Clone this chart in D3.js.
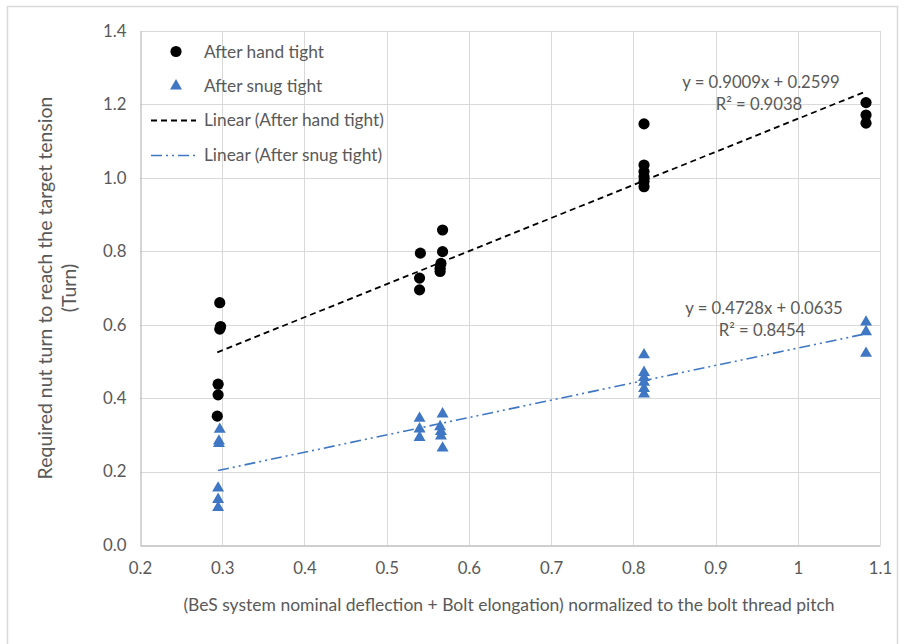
<!DOCTYPE html>
<html><head><meta charset="utf-8">
<script src="https://cdn.jsdelivr.net/npm/d3@7"></script>
<style>body{margin:0;background:#fff;}svg{display:block;font-family:Lato,"Open Sans",sans-serif;}</style>
</head><body><svg id="c" width="905" height="644"></svg>
<script>
// ---- data ----
const handX = [0.297,0.298,0.297,0.295,0.295,0.294, 0.541,0.540,0.540, 0.568,0.568,0.566,0.565,0.565, 0.813,0.813,0.813,0.813,0.813,0.813, 1.083,1.083,1.083];
const handY = [0.660,0.595,0.588,0.438,0.409,0.351, 0.795,0.727,0.695, 0.858,0.799,0.767,0.754,0.745, 1.147,1.035,1.017,1.003,0.990,0.976, 1.205,1.171,1.149];
const snugX = [0.297,0.296,0.296,0.295,0.295,0.295, 0.540,0.540,0.540, 0.568,0.565,0.566,0.566,0.568, 0.813,0.813,0.813,0.813,0.813,0.813, 1.083,1.083,1.083];
const snugY = [0.315,0.283,0.276,0.155,0.124,0.102, 0.345,0.316,0.293, 0.357,0.322,0.309,0.297,0.264, 0.518,0.470,0.456,0.443,0.426,0.411, 0.607,0.581,0.522];
const fitHand = {slope:0.9009, intercept:0.2599, eq:"y = 0.9009x + 0.2599", r2:"R² = 0.9038"};
const fitSnug = {slope:0.4728, intercept:0.0635, eq:"y = 0.4728x + 0.0635", r2:"R² = 0.8454"};
const xTicks = [0.2,0.3,0.4,0.5,0.6,0.7,0.8,0.9,1.0,1.1];
const xTickLabels = ["0.2","0.3","0.4","0.5","0.6","0.7","0.8","0.9","1","1.1"];
const yTicks = [0,0.2,0.4,0.6,0.8,1.0,1.2,1.4];
const legendLabels = ["After hand tight","After snug tight","Linear (After hand tight)","Linear (After snug tight)"];
const xTitle = "(BeS system nominal deflection + Bolt elongation) normalized to the bolt thread pitch";
const yTitle = ["Required nut turn to reach the target tension","(Turn)"];

// ---- layout ----
const svg = d3.select("#c");
const L=140,R=880,T=31,B=545;
const x = d3.scaleLinear().domain([0.2,1.1]).range([L,R]);
const y = d3.scaleLinear().domain([0,1.4]).range([B,T]);
const txt = "#595959", blue = "#3f77c4";

svg.append("rect").attr("x",7.5).attr("y",6.5).attr("width",890).attr("height",660)
  .attr("fill","#fff").attr("stroke","#d9d9d9").attr("stroke-width",1.5);

// grid
const g = svg.append("g");
g.selectAll(".hg").data(yTicks.slice(1)).join("line")
  .attr("x1",L).attr("x2",R).attr("y1",d=>Math.round(y(d))+0.5).attr("y2",d=>Math.round(y(d))+0.5)
  .attr("stroke","#d9d9d9").attr("stroke-width",1);
g.selectAll(".vg").data(xTicks.slice(1)).join("line")
  .attr("y1",T).attr("y2",B).attr("x1",d=>Math.round(x(d))+0.5).attr("x2",d=>Math.round(x(d))+0.5)
  .attr("stroke","#d9d9d9").attr("stroke-width",1);
// axes
const xa = svg.append("g").attr("transform",`translate(0,${B+0.5})`)
  .call(d3.axisBottom(x).tickValues(xTicks).tickFormat((d,i)=>xTickLabels[i]).tickSize(0).tickPadding(17));
const ya = svg.append("g").attr("transform",`translate(${L+0.5},0)`)
  .call(d3.axisLeft(y).tickValues(yTicks).tickFormat(d3.format(".1f")).tickSize(0).tickPadding(14));
[xa,ya].forEach(a=>{a.select(".domain").attr("stroke","#bfbfbf").attr("stroke-width",1.3);
  a.selectAll("text").attr("fill",txt).attr("font-size",16.8).attr("font-family","Lato,sans-serif");});

// trendlines
const ext = arr => d3.extent(arr);
function trend(xs, fit){ const e = ext(xs); return e.map(v=>[x(v), y(fit.slope*v+fit.intercept)]); }
svg.append("path").attr("d",d3.line()(trend(handX,fitHand))).attr("stroke","#000").attr("stroke-width",1.8)
  .attr("stroke-dasharray","6,4").attr("fill","none");
svg.append("path").attr("d",d3.line()(trend(snugX,fitSnug))).attr("stroke",blue).attr("stroke-width",1.6)
  .attr("stroke-dasharray","11,4,2,4,2,4").attr("fill","none");

// points
svg.append("g").selectAll("circle").data(handX.map((v,i)=>[v,handY[i]])).join("circle")
  .attr("cx",d=>x(d[0])).attr("cy",d=>y(d[1])).attr("r",5.6).attr("fill","#000");
const tri = d3.symbol().type(d3.symbolTriangle).size(62);
svg.append("g").selectAll("path").data(snugX.map((v,i)=>[v,snugY[i]])).join("path")
  .attr("d",tri).attr("transform",d=>`translate(${x(d[0])},${y(d[1])})`).attr("fill",blue);

// equations
function eqText(cx,cy,fit){
  svg.append("text").attr("x",cx).attr("y",cy).attr("text-anchor","middle").attr("dy","0.35em")
    .attr("fill",txt).attr("font-size",16.7).text(fit.eq);
  svg.append("text").attr("x",cx-2).attr("y",cy+22).attr("text-anchor","middle").attr("dy","0.35em")
    .attr("fill",txt).attr("font-size",16.7).text(fit.r2);
}
eqText(761,82,fitHand);
eqText(764,308,fitSnug);

// legend
const lg = svg.append("g");
lg.append("circle").attr("cx",176).attr("cy",51.5).attr("r",5.6).attr("fill","#000");
lg.append("path").attr("d",tri).attr("transform","translate(176,86)").attr("fill",blue);
lg.append("line").attr("x1",151).attr("x2",196).attr("y1",120.5).attr("y2",120.5).attr("stroke","#000")
  .attr("stroke-width",1.8).attr("stroke-dasharray","6,4");
lg.append("line").attr("x1",151).attr("x2",198).attr("y1",155.5).attr("y2",155.5).attr("stroke",blue)
  .attr("stroke-width",1.6).attr("stroke-dasharray","11,4,2,4,2,4");
const ly=[51.5,85.5,120,155], lx=[204,204,204,204];
lg.selectAll("text").data(legendLabels).join("text").attr("x",(d,i)=>lx[i]).attr("y",(d,i)=>ly[i])
  .attr("dy","0.35em").attr("fill",txt).attr("font-size",17.3).text(d=>d);

// axis titles
svg.append("text").attr("x",509).attr("y",605).attr("dy","0.35em").attr("text-anchor","middle")
  .attr("fill",txt).attr("font-size",17.5).text(xTitle);
const yt = svg.append("text").attr("transform",`translate(45,${(T+B)/2}) rotate(-90)`).attr("text-anchor","middle")
  .attr("fill",txt).attr("font-size",19.5);
yt.append("tspan").attr("x",0).attr("y",0).attr("dy","0.35em").text(yTitle[0]);
yt.append("tspan").attr("x",0).attr("y",24).attr("dy","0.35em").text(yTitle[1]);
</script></body></html>
